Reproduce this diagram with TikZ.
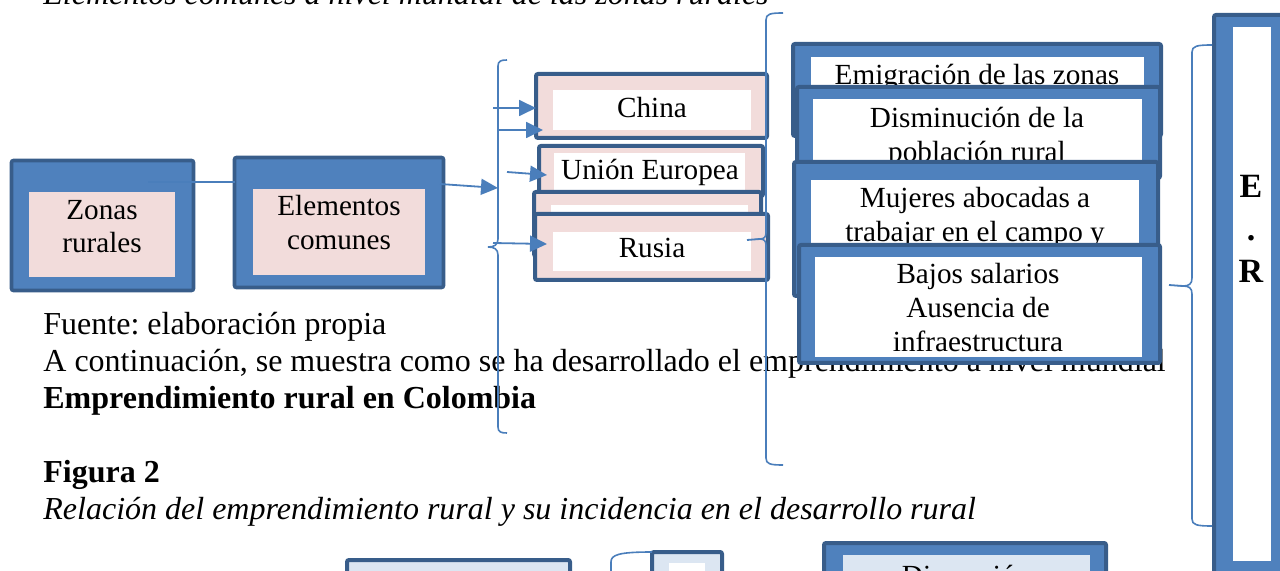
\documentclass[tikz,border=0pt]{standalone}
\usepackage{fontspec}
\setmainfont{Liberation Serif}
\usetikzlibrary{arrows.meta}
\frenchspacing
\definecolor{bdr}{HTML}{385D8A}
\definecolor{bfill}{HTML}{4F81BD}
\definecolor{pinkf}{HTML}{F2DCDB}
\definecolor{lbf}{HTML}{DCE6F2}
\definecolor{conn}{HTML}{4A7EBB}
\newcommand{\rbox}[6]{%
  \pgfmathsetmacro{\rbW}{((#5)-(#3))*0.5}%
  \pgfmathsetmacro{\rbH}{((#6)-(#4))*0.5}%
  \node[#2, minimum width=\rbW pt, minimum height=\rbH pt] (#1) at ({((#3)+(#5))/2},{((#4)+(#6))/2}) {};%
}
\tikzset{
  plain/.style={inner sep=0pt, outer sep=0pt, rectangle},
  outerblue/.style={plain, draw=bdr, line width=2pt, fill=bfill, rounded corners=1pt},
  outerpink/.style={plain, draw=bdr, line width=2pt, fill=pinkf, rounded corners=1pt},
  outerlb/.style={plain, draw=bdr, line width=2pt, fill=lbf, rounded corners=1pt},
  innerpink/.style={plain, fill=pinkf},
  innerwhite/.style={plain, fill=white},
  innerlb/.style={plain, fill=lbf},
  body/.style={font=\fontsize{16}{18.4}\selectfont, inner sep=0pt, anchor=base west},
  boxtxt/.style={font=\fontsize{14.6}{17}\selectfont, inner sep=0pt, anchor=base},
  ertxt/.style={font=\fontsize{17}{20}\selectfont\bfseries, inner sep=0pt, anchor=base},
  conline/.style={draw=conn, line width=0.9pt},
  arr/.style={conline, -{Triangle[length=8.5pt,width=8pt]}},
  bracestyle/.style={draw=conn, line width=0.8pt},
}
\begin{document}
\begin{tikzpicture}[x=0.5pt,y=-0.5pt]
\useasboundingbox (0,0) rectangle (1280,571);
\clip (0,0) rectangle (1280,571);

% ---- body text ----
\node[body, font=\fontsize{16}{18.4}\selectfont\itshape] (cap1) at (43,5) {Elementos comunes a nivel mundial de las zonas rurales};
\node[body] (fuente) at (43,335) {Fuente: elaboración propia};
\node[body] (acont) at (43,372) {A continuación, se muestra como se ha desarrollado el emprendimiento a nivel mundial};
\node[body, font=\fontsize{16}{18.4}\selectfont\bfseries] (emprc) at (43,409) {Emprendimiento rural en Colombia};
\node[body, font=\fontsize{16}{18.4}\selectfont\bfseries] (fig2) at (43,483) {Figura 2};
\node[body, font=\fontsize{16}{18.4}\selectfont\itshape] (cap2) at (43,520) {Relación del emprendimiento rural y su incidencia en el desarrollo rural};

% ---- left boxes ----
\rbox{zonas}{outerblue, line width=1.8pt}{11.5}{160.5}{193.5}{290.5}
\rbox{zonasin}{innerpink}{29}{192}{175}{277}
\node[boxtxt] (zonast1) at (102,220) {Zonas};
\node[boxtxt] (zonast2) at (102,253) {rurales};

\rbox{elem}{outerblue, line width=1.8pt}{234.5}{157.5}{443.5}{287.5}
\rbox{elemin}{innerpink}{253}{189}{425}{275}
\node[boxtxt] (elemt1) at (339,216) {Elementos};
\node[boxtxt] (elemt2) at (339,250) {comunes};

% ---- country boxes ----
\rbox{china}{outerpink}{536}{74}{767}{138}
\rbox{chinain}{innerwhite}{553}{90}{751}{130}
\node[boxtxt] (chinat) at (652,118) {China};

\rbox{ue}{outerpink}{539}{146}{763}{196}
\rbox{uein}{innerwhite}{554}{153}{745}{192}
\node[boxtxt] (uet) at (650,180) {Unión Europea};

\rbox{third}{outerpink}{534}{192}{761}{256}
\rbox{thirdin}{innerwhite}{551}{205}{748}{245}

\rbox{rusia}{outerpink}{535}{214}{768}{280}
\rbox{rusiain}{innerwhite}{553}{232}{751}{271}
\node[boxtxt] (rusiat) at (652,258) {Rusia};

% ---- right column ----
\rbox{emig}{outerblue}{793}{44}{1161}{136}
\rbox{emigin}{innerwhite}{811}{57}{1144}{122}
\node[boxtxt] (emigt) at (977,85) {Emigración de las zonas};

\rbox{dism}{outerblue}{797}{87}{1160}{178}
\rbox{dismin}{innerwhite}{813}{99}{1142}{165}
\node[boxtxt] (dismt1) at (977,128) {Disminución de la};
\node[boxtxt] (dismt2) at (977,162) {población rural};

\rbox{muj}{outerblue}{794}{162}{1158}{296}
\rbox{mujin}{innerwhite}{811}{180}{1139}{283}
\node[boxtxt] (mujt1) at (975,208) {Mujeres abocadas a};
\node[boxtxt] (mujt2) at (975,242) {trabajar en el campo y};

\rbox{bajos}{outerblue}{799}{245}{1160}{363}
\rbox{bajosin}{innerwhite}{815}{257}{1142}{357}
\node[boxtxt] (bajost1) at (978,284) {Bajos salarios};
\node[boxtxt] (bajost2) at (978,318) {Ausencia de};
\node[boxtxt] (bajost3) at (978,352) {infraestructura};

% ---- E.R box ----
\rbox{er}{outerblue}{1214}{15}{1290}{583}
\rbox{erin}{innerwhite}{1233}{27}{1271}{561}
\node[ertxt] (ert1) at (1251,198) {E};
\node[ertxt] (ert2) at (1251,241) {.};
\node[ertxt] (ert3) at (1251,283) {R};

% ---- bottom (Figura 2) ----
\rbox{fb1}{outerlb}{347}{560}{570}{640}
\rbox{fb2}{outerlb}{652}{552}{722}{640}
\rbox{fb2in}{innerwhite}{669}{563}{705}{640}
\rbox{fb3}{outerblue}{824}{543}{1106}{640}
\rbox{fb3in}{innerlb}{843}{555}{1090}{640}
\node[boxtxt] (fb3t) at (966,585) {Dimensión};
\coordinate (fbr) at (611,600);
\draw[bracestyle] (fbr) -- (611,562) .. controls (611,555) and (618,552) .. (fb2.west |- 0,552);

% ---- braces ----
\coordinate (b1top) at (507,60);
\coordinate (b1tip) at (488,247);
\coordinate (b1bot) at (507,433);
\draw[bracestyle] (b1top) .. controls (501,60) and (498,61) .. (498,66) -- (498,239)
  .. controls (498,245) and (494,247) .. (b1tip) .. controls (494,247) and (498,249) .. (498,255)
  -- (498,427) .. controls (498,432) and (501,433) .. (b1bot);

\coordinate (b2top) at (783,13);
\coordinate (b2tip) at (760,239);
\coordinate (b2bot) at (783,465);
\draw[bracestyle] (b2top) .. controls (770,13) and (766,14) .. (766,20) -- (766,233)
  .. controls (766,237) and (764,239) .. (b2tip) .. controls (764,239) and (766,241) .. (766,245)
  -- (766,458) .. controls (766,464) and (770,465) .. (b2bot);

\coordinate (b3top) at (1212,45);
\coordinate (b3tip) at (1183,286);
\coordinate (b3bot) at (1212,526);
\draw[bracestyle] (b3top) .. controls (1197,45) and (1192,46) .. (1192,52) -- (1192,278)
  .. controls (1192,284) and (1189,286) .. (b3tip) .. controls (1189,286) and (1192,288) .. (1192,294)
  -- (1192,519) .. controls (1192,525) and (1197,526) .. (b3bot);

% ---- connectors ----
\coordinate (zs) at (148,182);
\draw[conline] (zs) -- (elem.west |- zs);
\coordinate (es) at (440,184);
\draw[arr] (es) -- (498,188);
\coordinate (a1s) at (493,108);
\draw[arr] (a1s) -- (china.west |- a1s);
\coordinate (a2s) at (498,130);
\draw[arr] (a2s) -- (543,130);
\coordinate (a3s) at (507,172);
\draw[arr] (a3s) -- (547,175);
\coordinate (a4s) at (493,243);
\draw[arr] (a4s) -- (547,244);
\coordinate (rs) at (747,240);
\draw[conline] (rs) -- (b2tip);
\coordinate (bs) at (1169,285);
\draw[conline] (bs) -- (b3tip);
\end{tikzpicture}
\end{document}
